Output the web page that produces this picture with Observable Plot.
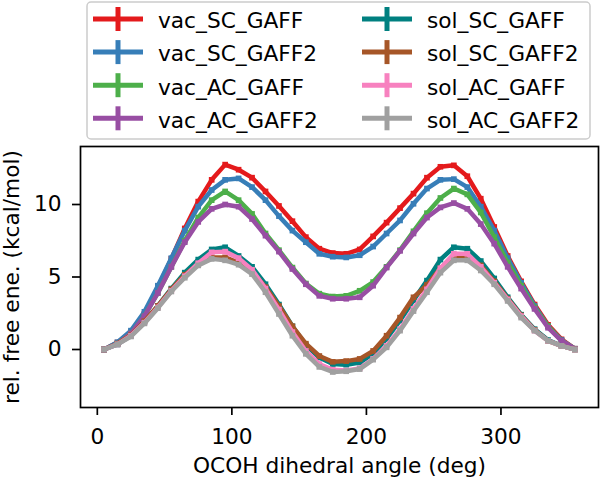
<!DOCTYPE html>
<html><head><meta charset="utf-8">
<script src="https://cdn.jsdelivr.net/npm/d3@7"></script>
<script src="https://cdn.jsdelivr.net/npm/@observablehq/plot@0.6"></script>
<style>
body{margin:0;background:#fff;}
#wrap{position:relative;width:600px;height:480px;}
#legend{position:absolute;left:0;top:0;}
</style></head><body><div id="wrap"><div id="chart"></div><svg id="legend" width="600" height="144"></svg></div>
<script>
const angles = [5,15,25,35,45,55,65,75,85,95,105,115,125,135,145,155,165,175,185,195,205,215,225,235,245,255,265,275,285,295,305,315,325,335,345,355];

const vac_SC_GAFF  = [0,0.48,1.2,2.45,4.3,6.25,8.35,10.2,11.7,12.75,12.4,11.85,10.9,9.9,8.85,7.75,6.95,6.65,6.6,6.9,7.8,8.75,9.75,10.75,11.85,12.6,12.7,11.95,10.4,8.45,6.45,4.7,3.1,1.7,0.7,0.05];
const vac_SC_GAFF2 = [0,0.5,1.3,2.6,4.4,6.3,8.2,9.85,11.0,11.7,11.8,11.2,10.3,9.2,8.2,7.4,6.6,6.4,6.35,6.5,7.1,8.0,8.9,10.05,11.1,11.7,11.75,11.2,9.85,8.2,6.3,4.6,3.0,1.6,0.65,0.05];
const vac_AC_GAFF  = [0,0.4,1.1,2.3,3.9,5.7,7.5,9.1,10.3,10.9,10.3,9.35,8.0,6.85,5.65,4.55,3.85,3.65,3.7,4.05,4.65,5.7,6.85,8.15,9.4,10.45,11.1,10.7,9.45,7.75,6.0,4.4,2.9,1.6,0.6,0.05];
const vac_AC_GAFF2 = [0,0.4,1.1,2.3,3.9,5.7,7.4,8.8,9.7,10.0,9.85,9.0,7.85,6.75,5.55,4.5,3.7,3.5,3.5,3.6,4.4,5.65,6.8,8.0,9.1,9.8,10.1,9.7,8.65,7.3,5.7,4.2,2.8,1.5,0.6,0.05];
const sol_SC_GAFF  = [0,0.35,0.95,1.9,3.0,4.2,5.3,6.2,6.9,7.05,6.45,5.7,4.5,3.1,1.6,0.3,-0.55,-1.0,-1.05,-0.9,-0.3,0.75,2.0,3.4,4.75,6.2,7.05,6.95,6.1,4.9,3.6,2.4,1.4,0.65,0.25,0];
const sol_SC_GAFF2 = [0,0.4,1.0,1.95,3.0,4.15,5.15,5.9,6.35,6.35,6.0,5.4,4.3,3.0,1.6,0.4,-0.45,-0.85,-0.8,-0.65,-0.1,0.95,2.2,3.6,4.45,5.6,6.35,6.35,5.8,4.7,3.5,2.35,1.35,0.6,0.25,0];
const sol_AC_GAFF  = [0,0.35,0.95,1.85,2.9,4.05,5.05,5.95,6.7,6.75,6.3,5.5,4.2,2.75,1.2,-0.1,-1.0,-1.4,-1.45,-1.3,-0.65,0.25,1.4,2.8,4.15,5.6,6.6,6.6,5.7,4.6,3.45,2.3,1.3,0.6,0.25,0];
const sol_AC_GAFF2 = [0,0.35,0.9,1.8,2.85,4.0,4.95,5.8,6.25,6.15,5.85,5.2,3.95,2.45,0.95,-0.3,-1.2,-1.55,-1.5,-1.35,-0.7,0.15,1.3,2.65,3.95,5.3,6.15,6.15,5.45,4.5,3.35,2.2,1.3,0.6,0.25,0];

const seriesNames = ["vac_SC_GAFF","vac_SC_GAFF2","vac_AC_GAFF","vac_AC_GAFF2","sol_SC_GAFF","sol_SC_GAFF2","sol_AC_GAFF","sol_AC_GAFF2"];
const seriesValues = [vac_SC_GAFF,vac_SC_GAFF2,vac_AC_GAFF,vac_AC_GAFF2,sol_SC_GAFF,sol_SC_GAFF2,sol_AC_GAFF,sol_AC_GAFF2];
const seriesColors = ["#e41a1c","#377eb8","#4daf4a","#984ea3","#008080","#a65628","#f781bf","#a0a0a0"];
const xTicks = [0,100,200,300];
const yTicks = [0,5,10];
const xLabel = "OCOH dihedral angle (deg)";
const yLabel = "rel. free ene. (kcal/mol)";

const FONT = "DejaVu Sans";
const FS = 21.7;

const rows = seriesNames.flatMap((name, i) => angles.map((a, j) => ({series: name, angle: a, energy: seriesValues[i][j]})));

const seriesMarks = seriesNames.flatMap(name => {
  const d = rows.filter(r => r.series === name);
  return [
    Plot.line(d, {x: "angle", y: "energy", stroke: "series", strokeWidth: 4.5, strokeLinejoin: "round"}),
    Plot.dot(d, {x: "angle", y: "energy", fill: "series", symbol: "square", r: 3.2})
  ];
});

const chart = Plot.plot({
  width: 600, height: 480,
  marginTop: 146, marginLeft: 80, marginRight: 2, marginBottom: 73,
  style: {fontFamily: FONT, fontSize: FS + "px", color: "#000", background: "white"},
  x: {domain: [-12.5, 372.5]},
  y: {domain: [-4, 14]},
  color: {domain: seriesNames, range: seriesColors},
  marks: [
    Plot.axisX({ticks: xTicks, tickSize: 8, tickPadding: 13, strokeWidth: 1.7, fontSize: FS, label: xLabel, labelAnchor: "center", labelArrow: "none", labelOffset: 65}),
    Plot.axisY({ticks: yTicks, tickSize: 8, tickPadding: 11, strokeWidth: 1.7, fontSize: FS, label: yLabel, labelAnchor: "center", labelArrow: "none", labelOffset: 77}),
    ...seriesMarks,
    Plot.frame({stroke: "#000", strokeWidth: 1.7})
  ]
});
document.getElementById("chart").append(chart);

// legend
const lg = d3.select("#legend");
lg.append("rect").attr("x", 87).attr("y", 2).attr("width", 503).attr("height", 137)
  .attr("rx", 4).attr("fill", "white").attr("fill-opacity", 0.8)
  .attr("stroke", "#cccccc").attr("stroke-width", 1.5);
seriesNames.forEach((name, i) => {
  const col = Math.floor(i / 4), row = i % 4;
  const cx = col === 0 ? 118 : 387;
  const tx = col === 0 ? 158 : 427;
  const cy = 19 + 33.1 * row;
  const g = lg.append("g");
  g.append("line").attr("x1", cx - 25).attr("x2", cx + 25).attr("y1", cy).attr("y2", cy)
    .attr("stroke", seriesColors[i]).attr("stroke-width", 5);
  g.append("line").attr("x1", cx).attr("x2", cx).attr("y1", cy - 12).attr("y2", cy + 12)
    .attr("stroke", seriesColors[i]).attr("stroke-width", 5);
  g.append("text").attr("x", tx).attr("y", cy + 9.3).attr("font-family", FONT)
    .attr("font-size", FS).attr("fill", "#000").text(name);
});
</script></body></html>
